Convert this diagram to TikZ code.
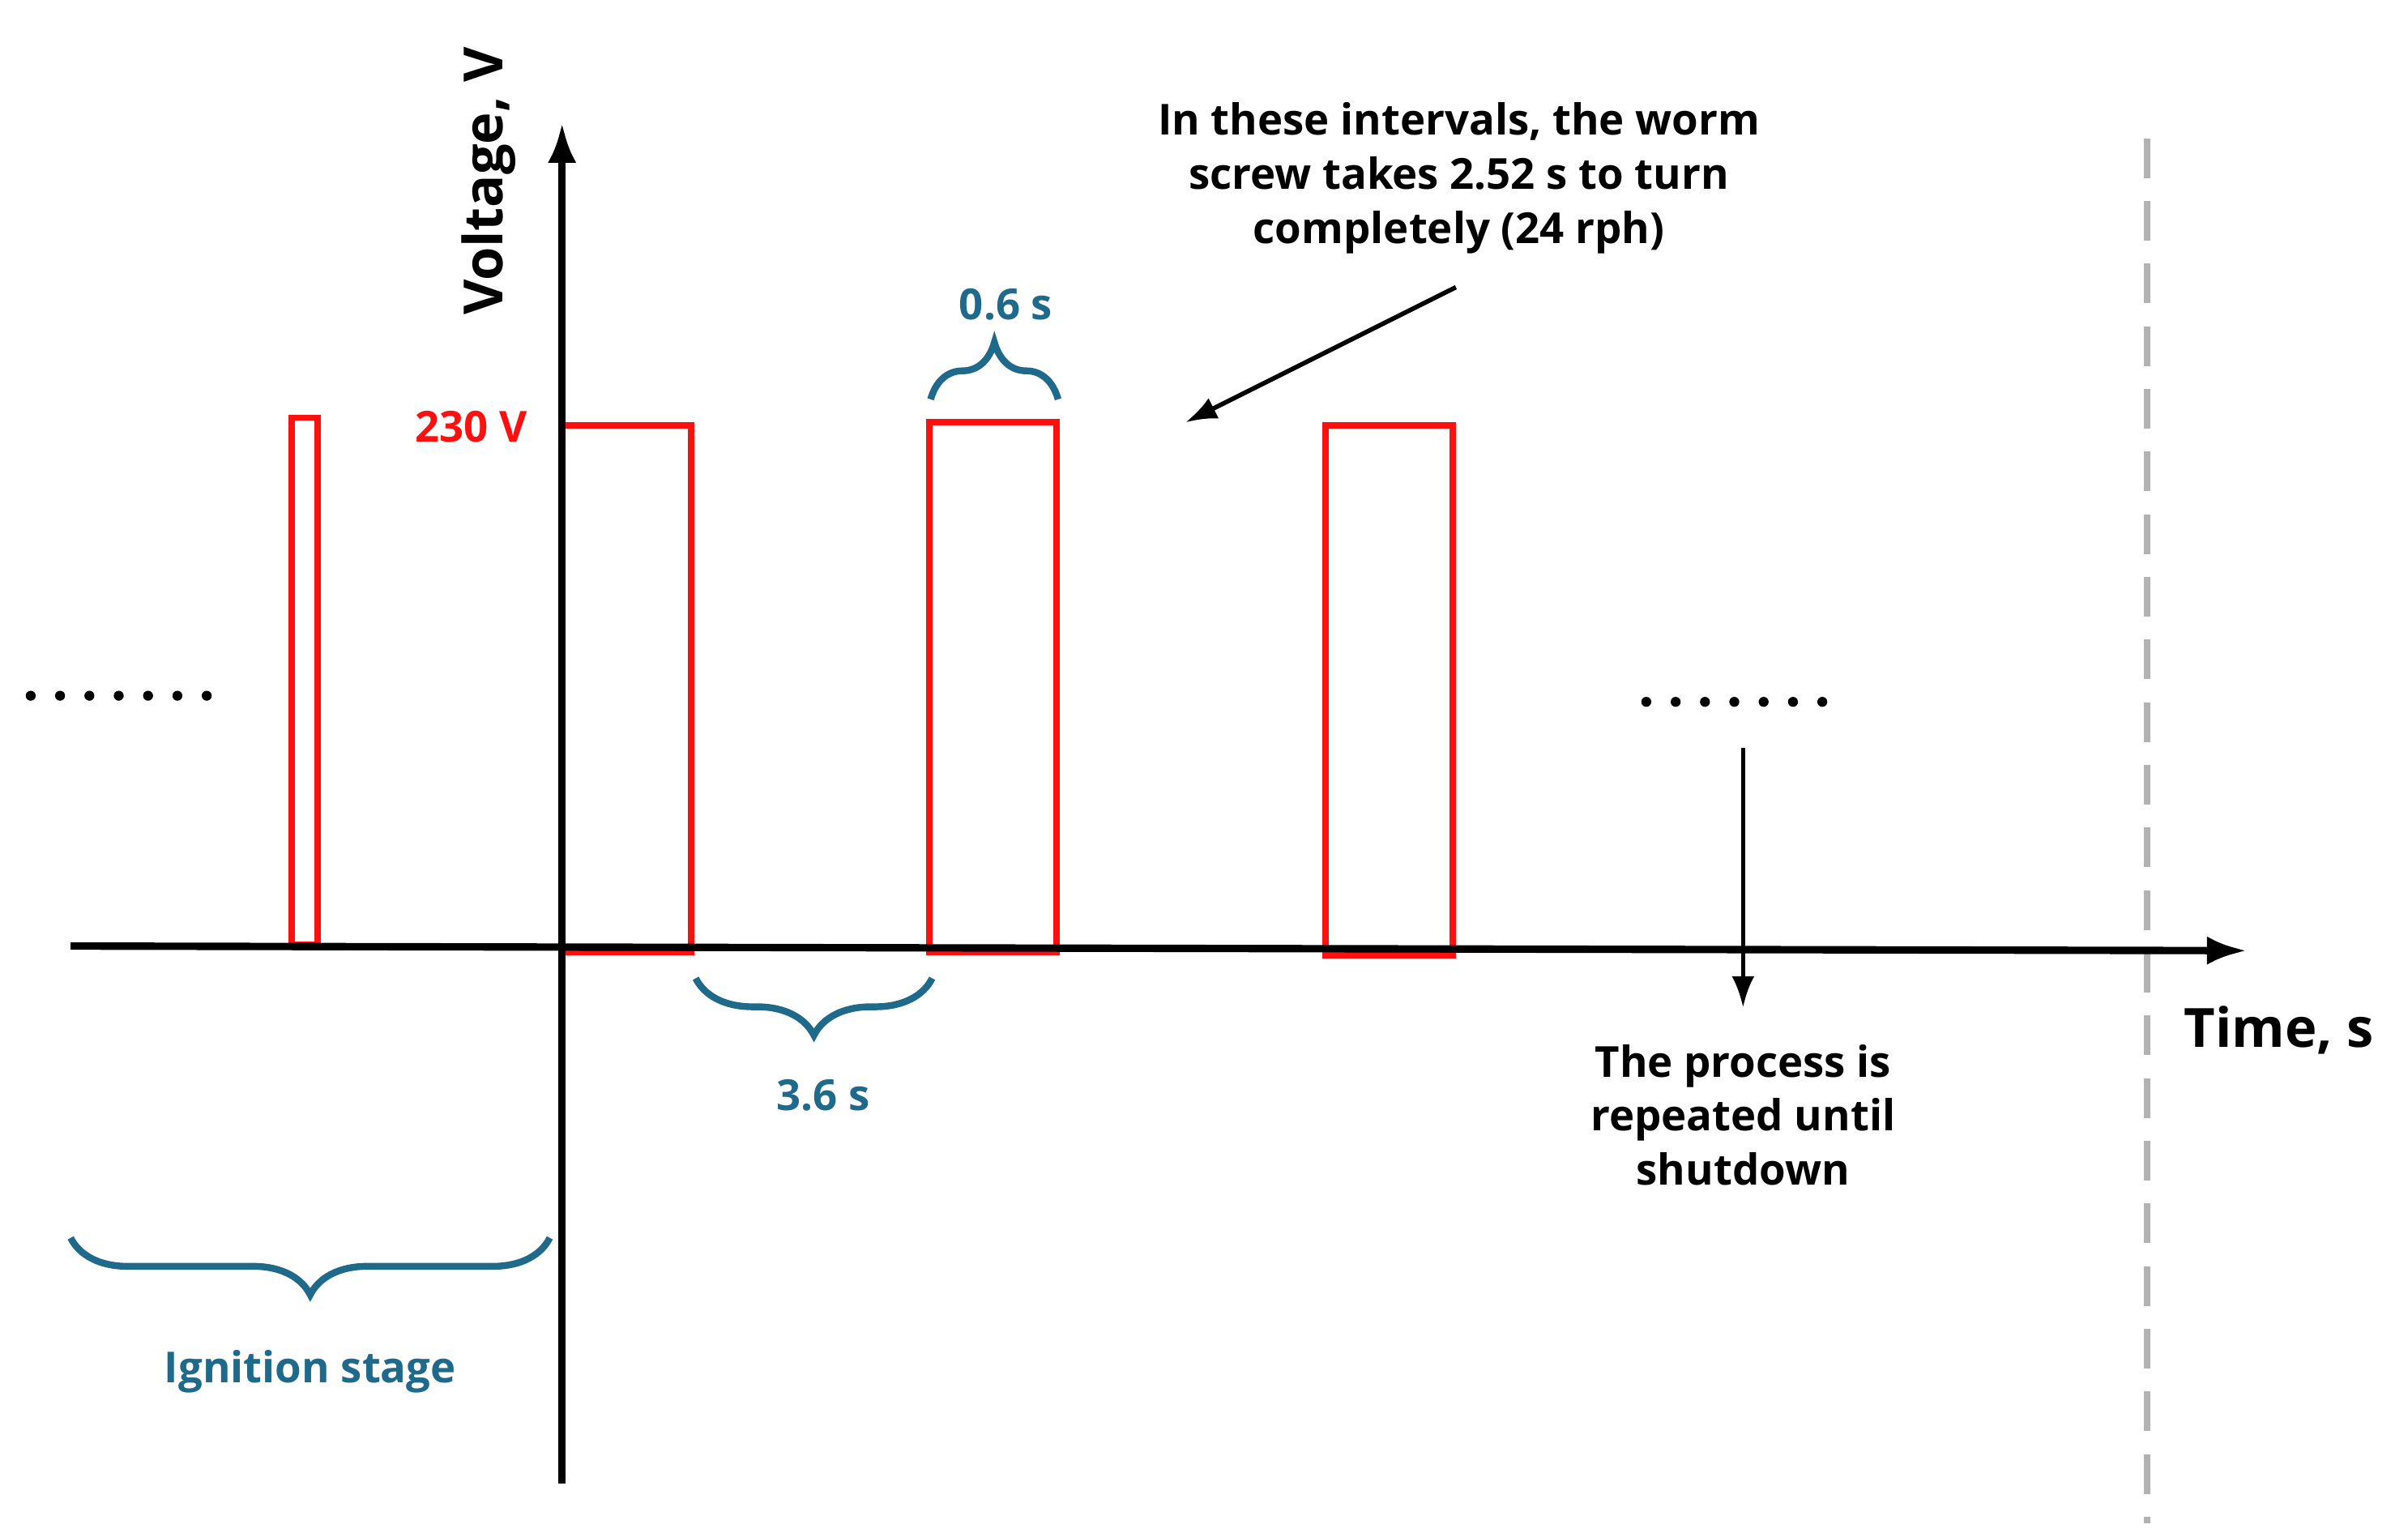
\documentclass[tikz,border=0pt]{standalone}
\usepackage{fontspec}
\setmainfont{Open Sans}
\usetikzlibrary{arrows.meta,decorations.pathreplacing}
\definecolor{teal2}{HTML}{1F6A8A}
\definecolor{red2}{HTML}{FF1010}
\begin{document}
\begin{tikzpicture}[x=0.01895cm,y=-0.01895cm,
  txt/.style={font=\fontsize{15}{19}\selectfont\bfseries,align=center},
  tl/.style={txt,text=teal2},
  pulse/.style={draw=red2,line width=2.2pt},
  ax/.style={line width=2.6pt,-{Latex[length=14pt,width=10pt]}},
  br/.style={teal2,line width=2.4pt,decorate,decoration={brace,amplitude=20pt,aspect=0.5}},
  ann/.style={line width=1.6pt,-{Latex[length=11pt,width=8pt]}},
  dots/.style={line width=3.5pt,dash pattern=on 0pt off 10.3pt,line cap=round}]
\useasboundingbox (0,0) rectangle (1568,998);
% dashed line
\draw[gray!60,line width=2.4pt,dash pattern=on 14pt off 8pt] (1398,90) -- (1398,992);
% pulses
\draw[pulse] (190,615) rectangle (207,272);
\draw[pulse] (366,620) rectangle (450,277);
\draw[pulse] (605,620) rectangle (688,275);
\draw[pulse] (863,622) rectangle (946,277);
% axes
\coordinate (xs) at (46,616); \coordinate (xe) at (1463,619);
\coordinate (ys) at (366,966); \coordinate (ye) at (366,80);
\draw[ax] (xs) -- (xe);
\draw[ax] (ys) -- (ye);
\node[txt,font=\fontsize{19}{22}\selectfont\bfseries,rotate=90] (vl) at (318,118) {Voltage, V};
\node[txt,font=\fontsize{19}{22}\selectfont\bfseries] (tl) at (1484,671) {Time, s};
\node[txt,text=red2] (v230) at (307,278) {230 V};
% dots
\draw[dots] (20,453) -- (140,453);
\draw[dots] (1072,457) -- (1192,457);
% braces
\draw[br] (606,260) -- (689,260);
\node[tl] (b06) at (655,198) {0.6 s};
\draw[br] (607,637) -- (453,637);
\node[tl] (b36) at (536,713) {3.6 s};
\draw[br] (358,806) -- (46,806);
\node[tl] (ign) at (202,893) {Ignition stage};
% annotations
\node[txt] (note) at (950,116) {In these intervals, the worm\\screw takes 2.52 s to turn\\completely (24 rph)};
\coordinate (n1) at (948,187); \coordinate (n2) at (772,275);
\draw[ann] (n1) -- (n2);
\node[txt] (rep) at (1135,726) {The process is\\repeated until\\shutdown};
\coordinate (r1) at (1135,487); \coordinate (r2) at (1135,656);
\draw[ann] (r1) -- (r2);
\end{tikzpicture}
\end{document}
